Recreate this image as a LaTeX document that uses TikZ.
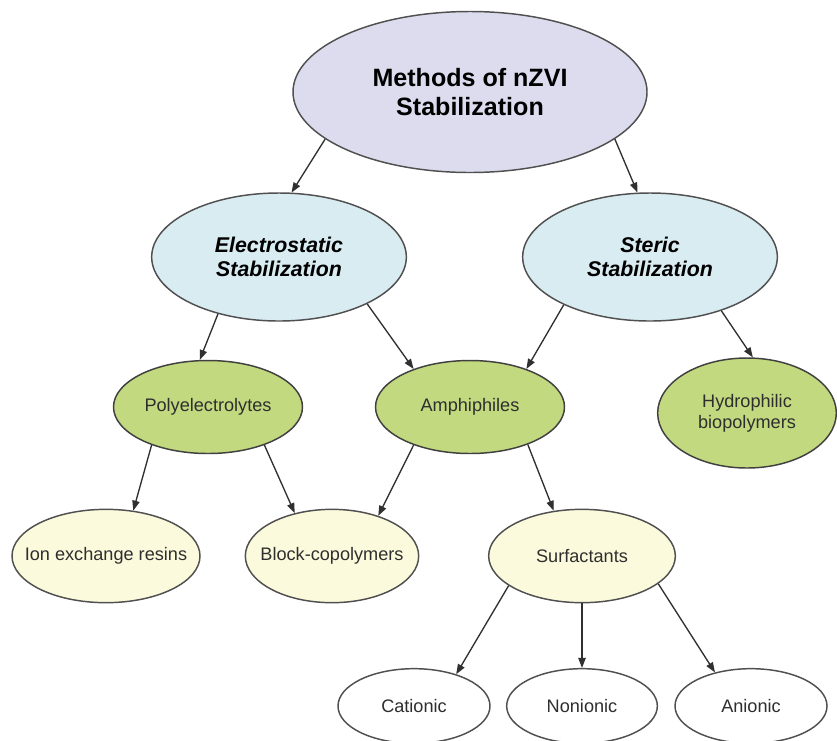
\documentclass[tikz,border=0pt]{standalone}
\usepackage{fontspec}
\setmainfont{Liberation Sans}
\usetikzlibrary{shapes.geometric,arrows.meta}
\definecolor{lav}{HTML}{DCDCEE}
\definecolor{lblue}{HTML}{D9ECF2}
\definecolor{lgreen}{HTML}{C2D97F}
\definecolor{lyellow}{HTML}{FCFADC}
\definecolor{edge}{HTML}{505050}
\definecolor{txt}{HTML}{2E2E2E}
\tikzset{
  oval/.style={ellipse, draw=edge, line width=1.1pt, inner sep=-60pt, align=center, text=txt,
    font=\fontsize{13.6}{15.5}\selectfont},
  topoval/.style={oval, fill=lav, text=black, font=\fontsize{18.8}{22}\selectfont\bfseries},
  midoval/.style={oval, fill=lblue, text=black, font=\fontsize{16}{18}\selectfont\bfseries\itshape},
  greenoval/.style={oval, fill=lgreen, draw=edge!80!black},
  yelloval/.style={oval, fill=lyellow},
  whiteoval/.style={oval, fill=white},
  link/.style={draw=edge!60!black, line width=1pt, -{Triangle[length=7.5pt,width=5.5pt]}}
}
\begin{document}
\begin{tikzpicture}[x=0.75pt,y=-0.75pt]
\useasboundingbox[fill=white] (0,0) rectangle (837,740);
\node[topoval, minimum width=265.5pt, minimum height=120.75pt] (top) at (470,92) {Methods of nZVI\\Stabilization};
\node[midoval, minimum width=191pt, minimum height=96pt] (elec) at (279,257) {Electrostatic\\Stabilization};
\node[midoval, minimum width=191pt, minimum height=96pt] (ster) at (650,257) {Steric\\Stabilization};
\node[greenoval, minimum width=141.75pt, minimum height=69.75pt] (poly) at (208,407) {Polyelectrolytes};
\node[greenoval, minimum width=141.75pt, minimum height=69.75pt] (amph) at (470,407) {Amphiphiles};
\node[greenoval, minimum width=134pt, minimum height=82.5pt] (hydro) at (747,413) {Hydrophilic\\biopolymers};
\node[yelloval, minimum width=141pt, minimum height=70pt] (ion) at (106,556) {Ion exchange resins};
\node[yelloval, minimum width=130pt, minimum height=70pt] (block) at (332,556) {Block-copolymers};
\node[yelloval, minimum width=140pt, minimum height=70pt] (surf) at (582,556) {Surfactants};
\node[whiteoval, minimum width=114pt, minimum height=56pt] (cat) at (414,706) {Cationic};
\node[whiteoval, minimum width=113pt, minimum height=56pt] (non) at (582,706) {Nonionic};
\node[whiteoval, minimum width=114pt, minimum height=56pt] (ani) at (751,706) {Anionic};
\draw[link] (top.198) -- (elec.79);
\draw[link] (top.342) -- (ster.101);
\draw[link] (elec.223) -- (poly.100);
\draw[link] (elec.332) -- (amph.146);
\draw[link] (ster.209) -- (amph.34);
\draw[link] (ster.323) -- (hydro.84);
\draw[link] (poly.214) -- (ion.59);
\draw[link] (poly.326) -- (block.131);
\draw[link] (amph.214) -- (block.41);
\draw[link] (amph.327) -- (surf.122);
\draw[link] (surf.202) -- (cat.37);
\draw[link] (surf.south) -- (non.north);
\draw[link] (surf.340) -- (ani.137);
\end{tikzpicture}
\end{document}
